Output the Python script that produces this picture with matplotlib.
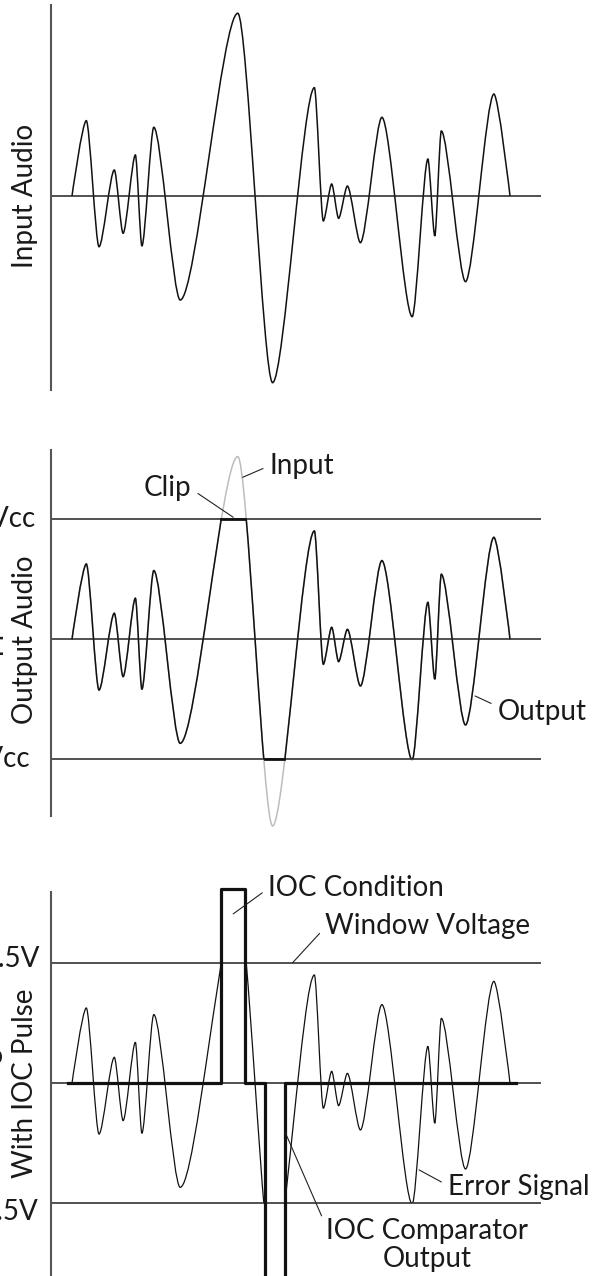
import matplotlib
matplotlib.use("Agg")
import matplotlib.pyplot as plt
from matplotlib.path import Path
from matplotlib.patches import PathPatch, Rectangle

plt.rcParams['font.family'] = ['Lato', 'DejaVu Sans']
plt.rcParams['font.weight'] = 'normal'

# audio waveform turning points (time, level); level 1.0 = Vcc = 2.5V window
t_ext = [2.1, 3.53, 4.80, 6.33, 7.21, 8.44, 9.09, 10.28, 12.92, 18.68, 22.16,
         26.34, 27.23, 28.07, 28.76, 29.64, 30.94, 33.09, 36.12, 37.69, 38.38,
         39.03, 41.45, 44.29, 45.9]
v_ext = [0, 0.628, -0.423, 0.217, -0.311, 0.342, -0.417, 0.573, -0.867, 1.523,
         -1.556, 0.903, -0.208, 0.10, -0.186, 0.083, -0.389, 0.656, -1.006,
         0.308, -0.333, 0.542, -0.714, 0.85, 0]

# clipping intervals of the output stage
clip_hi_t = [16.95, 19.44]
clip_lo_t = [21.4, 23.3]
clip_levels = [1, 0, -1]

# IOC comparator output (step, post)
comp_t = [1.73, 16.95, 19.44, 21.4, 23.39, 46.47]
comp_v = [0, 1.62, 0, -1.95, 0, 0]

FS = 20
TXT = '#1a1a1a'
T_MAX = 49


def wave_path(ts, vs, k=0.27):
    # smooth path through the turning points, flat tangent at each peak
    verts = [(ts[0], vs[0])]
    codes = [Path.MOVETO]
    n = len(ts)
    for i in range(n - 1):
        t0, v0, t1, v1 = ts[i], vs[i], ts[i + 1], vs[i + 1]
        dt = t1 - t0
        c1 = (t0, v0) if i == 0 else (t0 + k * dt, v0)
        c2 = (t1, v1) if i == n - 2 else (t1 - k * dt, v1)
        verts += [c1, c2, (t1, v1)]
        codes += [Path.CURVE4] * 3
    return Path(verts, codes)


def setup(ax, ylim):
    ax.set_xlim(0, T_MAX)
    ax.set_ylim(*ylim)
    ax.set_xticks([])
    ax.set_yticks([])
    for s in ('top', 'right', 'bottom'):
        ax.spines[s].set_visible(False)
    ax.spines['left'].set_color('#555555')
    ax.spines['left'].set_linewidth(1.5)
    ax.patch.set_alpha(0)


W, H = 603, 1276
fig = plt.figure(figsize=(W / 100, H / 100), dpi=100)
left, width = 51 / W, 490 / W

ax1 = fig.add_axes([left, 1 - 390 / H, width, 385 / H])
ax2 = fig.add_axes([left, 1 - 816 / H, width, 366 / H])
ax3 = fig.add_axes([left, 1 - 1300 / H, width, 407.7 / H])
setup(ax1, (-1.617, 1.592))
setup(ax2, (-1.4725, 1.5775))
setup(ax3, (-1.806, 1.592))

wave = wave_path(t_ext, v_ext)
band = lambda ax: Rectangle((0, -1), T_MAX, 2, transform=ax.transData)

# ---- panel 1: input audio
ax1.axhline(0, color='#222222', lw=1.1)
ax1.add_patch(PathPatch(wave, fill=False, ec='#111111', lw=1.1, clip_on=False))
ax1.text(-2.6, 0, 'Input Audio', rotation=90, ha='center', va='center',
         fontsize=FS, color=TXT)

# ---- panel 2: clipped output
for lv in clip_levels:
    ax2.axhline(lv, color='#222222', lw=1.1)
ax2.add_patch(PathPatch(wave, fill=False, ec='#bdbdbd', lw=1.1, clip_on=False))
out = ax2.add_patch(PathPatch(wave, fill=False, ec='#111111', lw=1.1))
out.set_clip_path(band(ax2))
ax2.plot(clip_hi_t, [1, 1], color='#111111', lw=2)
ax2.plot(clip_lo_t, [-1, -1], color='#111111', lw=2)
ax2.text(-2.6, 0, 'Output Audio', rotation=90, ha='center', va='center',
         fontsize=FS, color=TXT)
ax2.text(-6.1, 0, 'Clipped', rotation=90, ha='center', va='center',
         fontsize=FS, color=TXT)
ax2.text(-1.5, 1, '+Vcc', ha='right', va='center', fontsize=FS, color=TXT)
ax2.text(-2.1, -1, '-Vcc', ha='right', va='center', fontsize=FS, color=TXT)

lead = dict(arrowstyle='-', lw=0.8, color='#222222', shrinkA=3, shrinkB=0)
ax2.annotate('Clip', xy=(18.22, 1.017), xytext=(14.07, 1.261), ha='right',
             va='center', fontsize=FS, color=TXT,
             arrowprops=dict(lead, relpos=(1, 0.45)))
ax2.annotate('Input', xy=(19.17, 1.35), xytext=(21.86, 1.447), ha='left',
             va='center', fontsize=FS, color=TXT,
             arrowprops=dict(lead, relpos=(0, 0.5)))
ax2.annotate('Output', xy=(42.4, -0.472), xytext=(44.67, -0.603), ha='left',
             va='center', fontsize=FS, color=TXT,
             arrowprops=dict(lead, relpos=(0, 0.7)))

# ---- panel 3: error signal with IOC pulse
for lv in clip_levels:
    ax3.axhline(lv, color='#222222', lw=1.1)
err = ax3.add_patch(PathPatch(wave, fill=False, ec='#111111', lw=0.9))
err.set_clip_path(band(ax3))
ax3.step(comp_t, comp_v, where='post', color='#111111', lw=2.3, clip_on=False)
ax3.text(-2.6, 0, 'With IOC Pulse', rotation=90, ha='center', va='center',
         fontsize=FS, color=TXT)
ax3.text(-6.1, 0, 'Error Signal', rotation=90, ha='center', va='center',
         fontsize=FS, color=TXT)
ax3.text(-1.15, 1.04, '+2.5V', ha='right', va='center', fontsize=FS, color=TXT)
ax3.text(-1.34, -1.07, '-2.5V', ha='right', va='center', fontsize=FS, color=TXT)

ax3.annotate('IOC Condition', xy=(18.22, 1.412), xytext=(21.74, 1.625),
             ha='left', va='center', fontsize=FS, color=TXT,
             arrowprops=dict(lead, relpos=(0, 0.5)))
ax3.annotate('Window Voltage', xy=(24.16, 1.005), xytext=(27.42, 1.311),
             ha='left', va='center', fontsize=FS, color=TXT,
             arrowprops=dict(lead, relpos=(0, 0.45)))
ax3.annotate('Error Signal', xy=(36.81, -0.722), xytext=(39.68, -0.862),
             ha='left', va='center', fontsize=FS, color=TXT,
             arrowprops=dict(lead, relpos=(0, 0.55)))
ax3.annotate('IOC Comparator\nOutput', xy=(23.39, -0.403), xytext=(37.6, -1.3475),
             ha='center', va='center', multialignment='center', linespacing=1.1,
             fontsize=FS, color=TXT,
             arrowprops=dict(lead, relpos=(0, 0.85)))

fig.savefig('out.png', dpi=100)
